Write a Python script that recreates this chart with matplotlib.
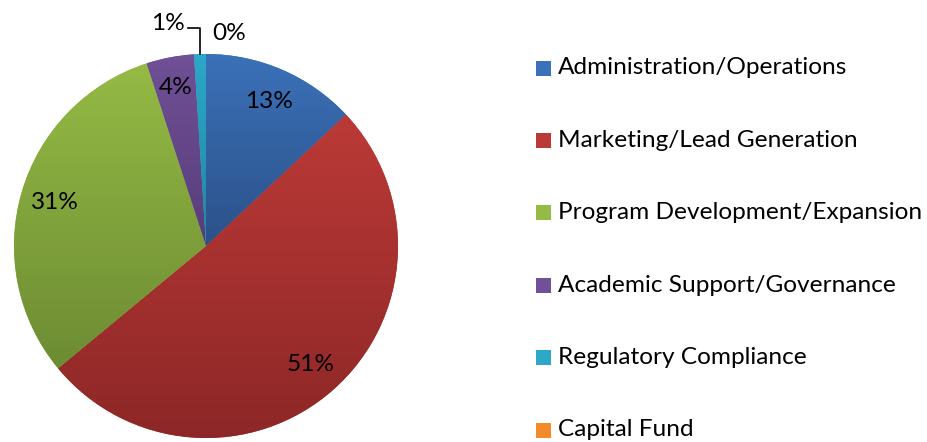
import numpy as np
import matplotlib
matplotlib.use('Agg')
import matplotlib.pyplot as plt
from matplotlib.colors import LinearSegmentedColormap
from matplotlib.patches import Rectangle

plt.rcParams['font.family'] = ['Lato', 'DejaVu Sans']

categories = ["Administration/Operations", "Marketing/Lead Generation",
              "Program Development/Expansion", "Academic Support/Governance",
              "Regulatory Compliance", "Capital Fund"]
shares = [13, 51, 31, 4, 1, 0]
# light (top) / dark (bottom) shade of each slice
tops    = ["#3b71b8", "#bb3a37", "#95ba45", "#705096", "#2ca8c8", "#f38b2b"]
bottoms = ["#2b5189", "#8d2727", "#6d8c33", "#583d7a", "#1f86a2", "#cc661c"]

W, H = 928, 442
FS = 17.6

fig = plt.figure(figsize=(W / 100, H / 100), dpi=100)
# pie centre at (206, 246) px from top-left, radius 192 px
R = 192
cx, cy = 206, H - 246
side = 2.4 * R
ax = fig.add_axes([(cx - side / 2) / W, (cy - side / 2) / H, side / W, side / H])

wedges, _ = ax.pie(shares, startangle=90, counterclock=False,
                   wedgeprops=dict(linewidth=0))
ax.set_aspect('equal')
ax.axis('off')

# vertical gradient inside each slice
for w, c0, c1 in zip(wedges, tops, bottoms):
    if w.theta2 - w.theta1 <= 0:
        continue
    cmap = LinearSegmentedColormap.from_list("g", [c1, c0])
    grad = np.linspace(0, 1, 256).reshape(-1, 1)
    ext = w.get_path().get_extents()
    w.set_facecolor(c0)
    im = ax.imshow(grad, cmap=cmap, origin='lower', aspect='auto',
                   extent=[ext.x0, ext.x1, ext.y0, ext.y1], zorder=2)
    im.set_clip_path(w)
ax.set_xlim(-1.2, 1.2)
ax.set_ylim(-1.2, 1.2)

# percentage labels inside the larger slices
total = sum(shares)
cum = 0
mids = []
for s in shares:
    mids.append(90 - 360 * (cum + s / 2) / total)
    cum += s
for i in range(4):
    a = np.radians(mids[i])
    r = 0.82 if i != 3 else 0.84
    ax.text(r * np.cos(a), r * np.sin(a), f"{shares[i]}%", ha='center', va='center',
            fontsize=FS, color='black', zorder=5)

# small slices labelled outside with a leader line
a = np.radians(mids[4])
px, py = np.cos(a), np.sin(a)
ax.plot([px, px, px - 0.06], [py, 1.135, 1.135], color='black', lw=1.2,
        zorder=5, clip_on=False)
ax.text(px - 0.08, 1.16, f"{shares[4]}%", ha='right', va='center',
        fontsize=FS, zorder=5)
ax.text(0.03, 1.105, f"{shares[5]}%", ha='left', va='center',
        fontsize=FS, zorder=5)

# legend
for i, (name, c0, c1) in enumerate(zip(categories, tops, bottoms)):
    yc = 1 - (68 + 72.4 * i) / H
    fig.patches.append(Rectangle((536 / W, yc - 7.5 / H), 15 / W, 15 / H,
                                 transform=fig.transFigure, facecolor=c0,
                                 edgecolor='none'))
    fig.text(558 / W, yc, name, ha='left', va='center', fontsize=FS)

fig.savefig("out.png", dpi=100)
